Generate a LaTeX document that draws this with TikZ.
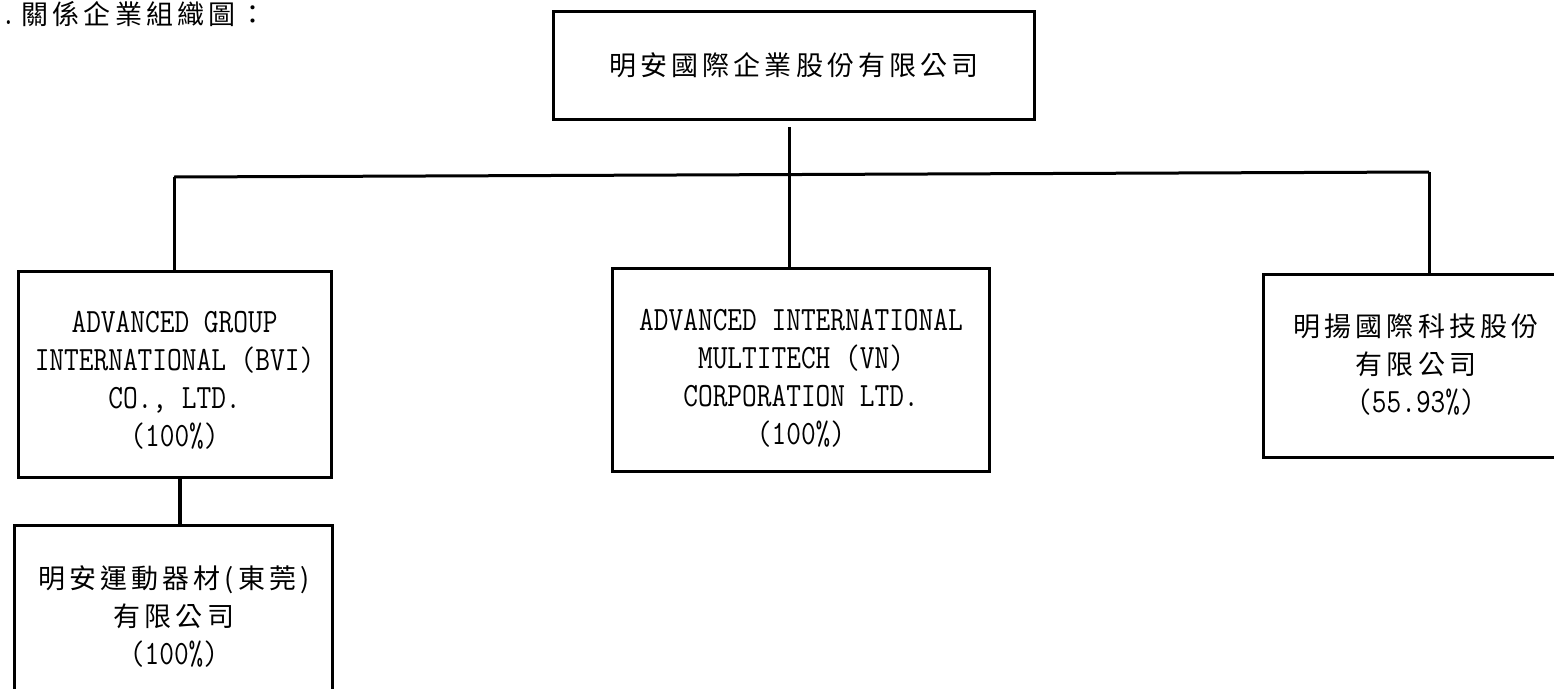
\documentclass[tikz,border=0pt]{standalone}
\usepackage{fontspec}
\newfontfamily\zhf[LetterSpace=15]{Noto Sans CJK TC}
\newfontfamily\latf[FakeStretch=0.84]{Latin Modern Mono}
\newcommand{\zh}[1]{{\zhf\fontsize{27}{38}\selectfont #1}}
\tikzset{
  bx/.style={draw=black,line width=3pt,fill=none,inner sep=0pt,outer sep=0pt,rectangle},
  txt/.style={align=center,inner sep=0pt,font=\latf\fontsize{34}{38}\selectfont},
  conn/.style={draw=black,line width=3pt},
  connb/.style={draw=black,line width=3.6pt}
}
\begin{document}
\begin{tikzpicture}[x=1pt,y=-1pt]
\useasboundingbox (0,0) rectangle (1554,688);
\clip (0,0) rectangle (1554,688);
% boxes
\node[bx,minimum width=481pt,minimum height=108pt] (top) at (793.5,65) {};
\node[bx,minimum width=313pt,minimum height=206pt] (bvi) at (174.5,374) {};
\node[bx,minimum width=377pt,minimum height=203pt] (mid) at (800.5,369.5) {};
\node[bx,minimum width=306pt,minimum height=183pt] (rgt) at (1416,365.5) {};
\node[bx,minimum width=318pt,minimum height=180pt] (chd) at (173,615) {};
% texts
\node[anchor=west,inner sep=0pt,font=\latf\fontsize{34}{38}\selectfont] (hd) at (1,14) {.\hspace{6pt}\zh{關係企業組織圖：}};
\node[txt] (ttop) at (794,65) {\zh{明安國際企業股份有限公司}};
\node[txt] (tbvi) at (174.5,380) {ADVANCED GROUP\\INTERNATIONAL (BVI)\\CO., LTD.\\(100\%)};
\node[txt] (tmid) at (801,378) {ADVANCED INTERNATIONAL\\MULTITECH (VN)\\CORPORATION LTD.\\(100\%)};
\node[txt] (trgt) at (1416,365) {\zh{明揚國際科技股份}\\\zh{有限公司}\\(55.93\%)};
\node[txt] (tchd) at (174,616) {\zh{明安運動器材(東莞)}\\\zh{有限公司}\\(100\%)};
% connectors
\coordinate (drop) at (789,127);
\coordinate (hl) at (174,177);
\coordinate (hr) at (1429,172);
\coordinate (cx) at (180,477);
\draw[conn] (hl) -- (hr);
\draw[conn] (drop) -- (drop |- mid.north);
\draw[conn] (hl) -- (hl |- bvi.north);
\draw[conn] (hr) -- (hr |- rgt.north);
\draw[connb] (cx |- bvi.south) -- (cx |- chd.north);
\end{tikzpicture}
\end{document}
